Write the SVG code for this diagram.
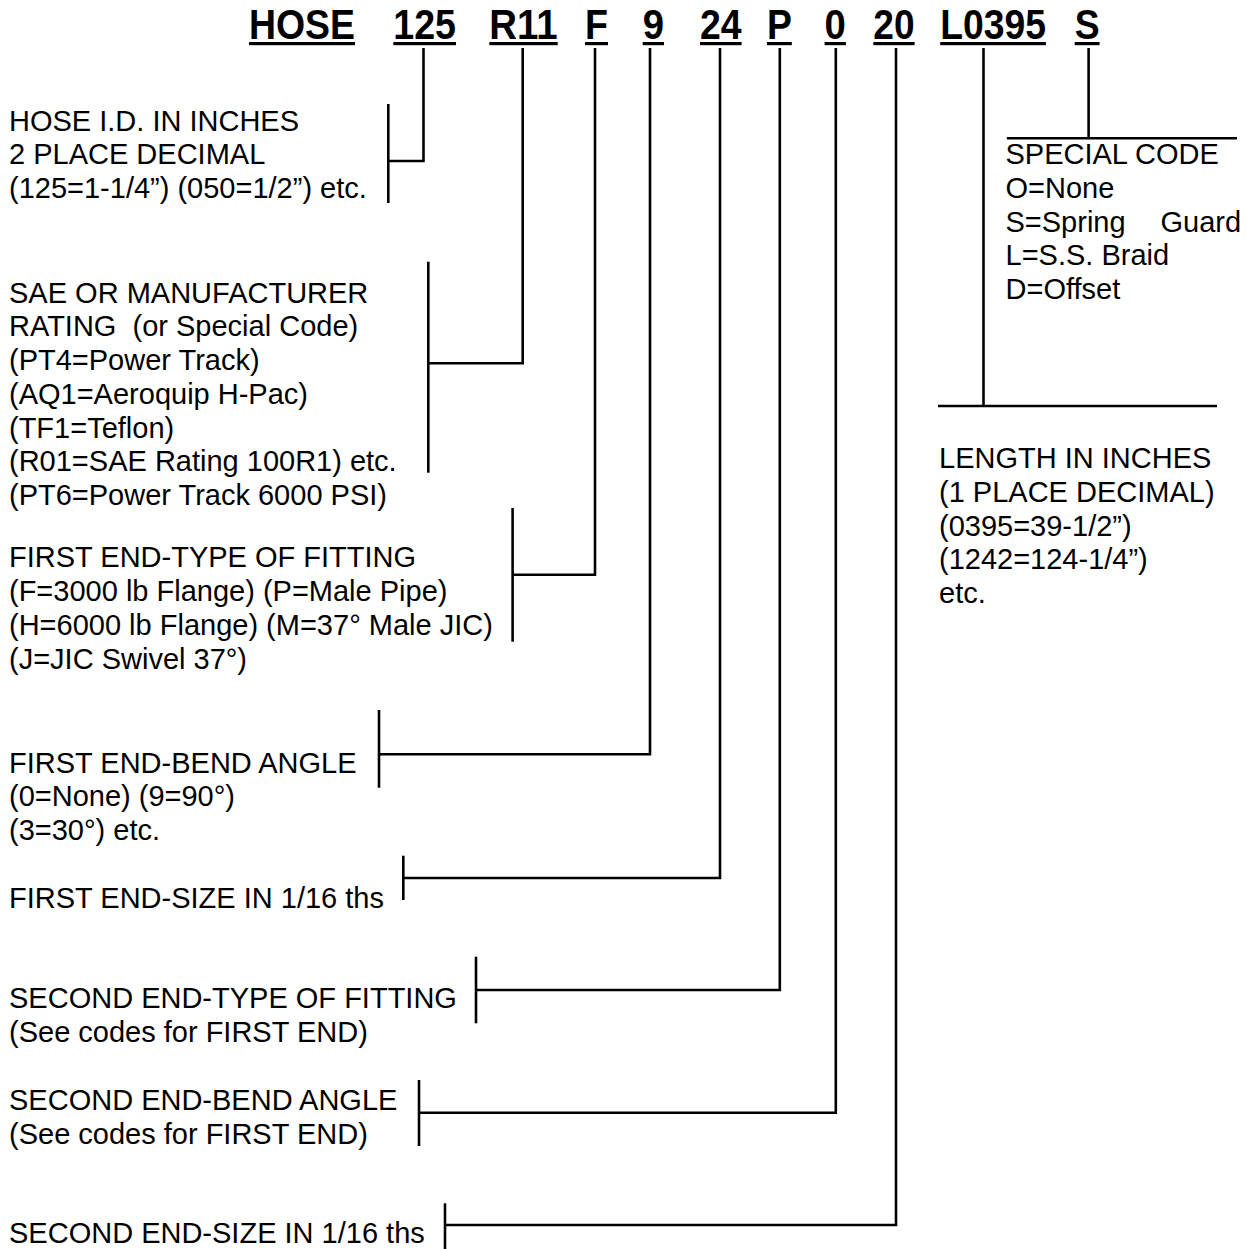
<svg xmlns="http://www.w3.org/2000/svg" width="1258" height="1249" viewBox="0 0 1258 1249">
<style>
  .code { font-family: "Liberation Sans", Arial, sans-serif; font-weight: bold; font-size: 43px; fill: #000; }
  .ul { fill: #000; }
  .t { font-family: "Liberation Sans", Arial, sans-serif; font-size: 29px; fill: #000; }
  .ln { fill: none; stroke: #000; stroke-width: 2.6; stroke-linecap: butt; stroke-linejoin: miter; }
</style>
<rect x="0" y="0" width="1258" height="1249" fill="#fff"/>

<g id="heading">
  <g id="code-hose"><text class="code" x="249" y="38.6" textLength="106" lengthAdjust="spacingAndGlyphs">HOSE</text><rect class="ul" x="249" y="42" width="106" height="3.2"/></g>
  <g id="code-125"><text class="code" x="393.3" y="38.6" textLength="62.7" lengthAdjust="spacingAndGlyphs">125</text><rect class="ul" x="393.3" y="42" width="62.7" height="3.2"/></g>
  <g id="code-r11"><text class="code" x="489.3" y="38.6" textLength="68.4" lengthAdjust="spacingAndGlyphs">R11</text><rect class="ul" x="489.3" y="42" width="68.4" height="3.2"/></g>
  <g id="code-f"><text class="code" x="585" y="38.6" textLength="23" lengthAdjust="spacingAndGlyphs">F</text><rect class="ul" x="585" y="42" width="23" height="3.2"/></g>
  <g id="code-9"><text class="code" x="642.7" y="38.6" textLength="21.3" lengthAdjust="spacingAndGlyphs">9</text><rect class="ul" x="642.7" y="42" width="21.3" height="3.2"/></g>
  <g id="code-24"><text class="code" x="700" y="38.6" textLength="41.6" lengthAdjust="spacingAndGlyphs">24</text><rect class="ul" x="700" y="42" width="41.6" height="3.2"/></g>
  <g id="code-p"><text class="code" x="766.9" y="38.6" textLength="24.9" lengthAdjust="spacingAndGlyphs">P</text><rect class="ul" x="766.9" y="42" width="24.9" height="3.2"/></g>
  <g id="code-0"><text class="code" x="824.6" y="38.6" textLength="21.3" lengthAdjust="spacingAndGlyphs">0</text><rect class="ul" x="824.6" y="42" width="21.3" height="3.2"/></g>
  <g id="code-20"><text class="code" x="873.3" y="38.6" textLength="41.3" lengthAdjust="spacingAndGlyphs">20</text><rect class="ul" x="873.3" y="42" width="41.3" height="3.2"/></g>
  <g id="code-l0395"><text class="code" x="940.2" y="38.6" textLength="105.7" lengthAdjust="spacingAndGlyphs">L0395</text><rect class="ul" x="940.2" y="42" width="105.7" height="3.2"/></g>
  <g id="code-s"><text class="code" x="1074.7" y="38.6" textLength="24.9" lengthAdjust="spacingAndGlyphs">S</text><rect class="ul" x="1074.7" y="42" width="24.9" height="3.2"/></g>
</g>

<g id="connectors">
  <!-- 125 -->
  <path class="ln" d="M423.5,48 V161 H388"/>
  <path class="ln" d="M388.3,104 V203"/>
  <!-- R11 -->
  <path class="ln" d="M522.7,48 V363.3 H428.3"/>
  <path class="ln" d="M428.3,261.7 V472.7"/>
  <!-- F -->
  <path class="ln" d="M595,48 V574.7 H512.6"/>
  <path class="ln" d="M512.6,508 V641.7"/>
  <!-- 9 -->
  <path class="ln" d="M650,48 V754.3 H379"/>
  <path class="ln" d="M379,710 V787.7"/>
  <!-- 24 -->
  <path class="ln" d="M720,48 V878 H403.3"/>
  <path class="ln" d="M403.3,855.7 V900"/>
  <!-- P -->
  <path class="ln" d="M779.8,48 V990 H476"/>
  <path class="ln" d="M476,956.7 V1023.3"/>
  <!-- 0 -->
  <path class="ln" d="M835.8,48 V1112.7 H419"/>
  <path class="ln" d="M419,1080 V1146"/>
  <!-- 20 -->
  <path class="ln" d="M896,48 V1225 H445"/>
  <path class="ln" d="M445,1203.3 V1249"/>
  <!-- L0395 -->
  <path class="ln" d="M983.5,48 V406"/>
  <path class="ln" d="M938,406 H1217"/>
  <!-- S -->
  <path class="ln" d="M1088.6,48 V138.3"/>
  <path class="ln" d="M1006.8,138.3 H1237"/>
</g>

<g id="desc-hose-id">
  <text class="t" x="9" y="130.7">HOSE I.D. IN INCHES</text>
  <text class="t" x="9" y="164.2">2 PLACE DECIMAL</text>
  <text class="t" x="9" y="197.7">(125=1-1/4”) (050=1/2”) etc.</text>
</g>

<g id="desc-rating">
  <text class="t" x="9" y="302.7">SAE OR MANUFACTURER</text>
  <text class="t" x="9" y="336.4" xml:space="preserve">RATING  (or Special Code)</text>
  <text class="t" x="9" y="370.1">(PT4=Power Track)</text>
  <text class="t" x="9" y="403.8">(AQ1=Aeroquip H-Pac)</text>
  <text class="t" x="9" y="437.5">(TF1=Teflon)</text>
  <text class="t" x="9" y="471.2">(R01=SAE Rating 100R1) etc.</text>
  <text class="t" x="9" y="504.9">(PT6=Power Track 6000 PSI)</text>
</g>

<g id="desc-first-type">
  <text class="t" x="9" y="567.3">FIRST END-TYPE OF FITTING</text>
  <text class="t" x="9" y="601.1">(F=3000 lb Flange) (P=Male Pipe)</text>
  <text class="t" x="9" y="634.9">(H=6000 lb Flange) (M=37° Male JIC)</text>
  <text class="t" x="9" y="668.7">(J=JIC Swivel 37°)</text>
</g>

<g id="desc-first-bend">
  <text class="t" x="9" y="772.7">FIRST END-BEND ANGLE</text>
  <text class="t" x="9" y="806">(0=None) (9=90°)</text>
  <text class="t" x="9" y="839.5">(3=30°) etc.</text>
</g>

<g id="desc-first-size">
  <text class="t" x="9" y="908.3">FIRST END-SIZE IN 1/16 ths</text>
</g>

<g id="desc-second-type">
  <text class="t" x="9" y="1008.3">SECOND END-TYPE OF FITTING</text>
  <text class="t" x="9" y="1042">(See codes for FIRST END)</text>
</g>

<g id="desc-second-bend">
  <text class="t" x="9" y="1110">SECOND END-BEND ANGLE</text>
  <text class="t" x="9" y="1143.7">(See codes for FIRST END)</text>
</g>

<g id="desc-second-size">
  <text class="t" x="9" y="1243.3">SECOND END-SIZE IN 1/16 ths</text>
</g>

<g id="desc-special">
  <text class="t" x="1005.5" y="164.3">SPECIAL CODE</text>
  <text class="t" x="1005.5" y="198">O=None</text>
  <text class="t" x="1005.5" y="231.7">S=Spring<tspan x="1160.5">Guard</tspan></text>
  <text class="t" x="1005.5" y="265.4">L=S.S. Braid</text>
  <text class="t" x="1005.5" y="299.1">D=Offset</text>
</g>

<g id="desc-length">
  <text class="t" x="939" y="468.3">LENGTH IN INCHES</text>
  <text class="t" x="939" y="502">(1 PLACE DECIMAL)</text>
  <text class="t" x="939" y="535.7">(0395=39-1/2”)</text>
  <text class="t" x="939" y="569.4">(1242=124-1/4”)</text>
  <text class="t" x="939" y="603.1">etc.</text>
</g>
</svg>
